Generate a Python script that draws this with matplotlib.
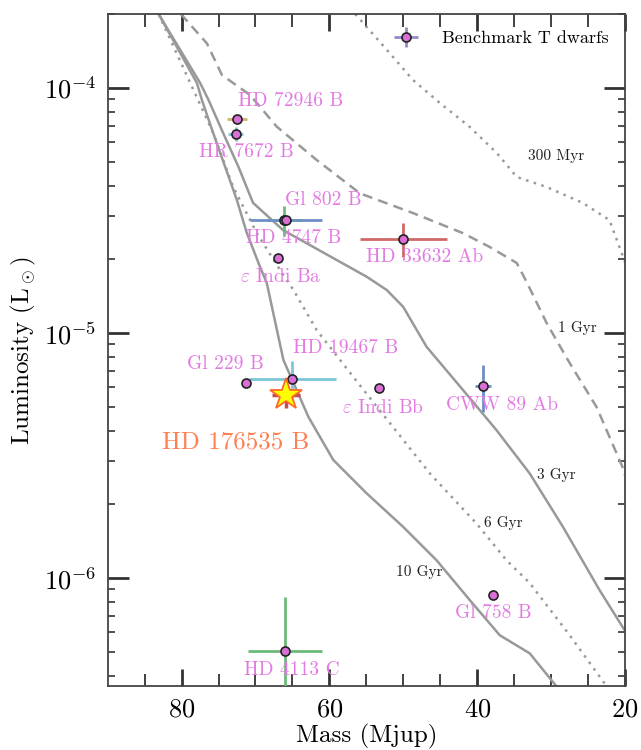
import numpy as np
import matplotlib
matplotlib.use("Agg")
import matplotlib.pyplot as plt
from matplotlib.legend_handler import HandlerErrorbar

plt.rcParams["font.family"] = "serif"
plt.rcParams["font.serif"] = ["cmr10"]
plt.rcParams["mathtext.fontset"] = "cm"
plt.rcParams["axes.unicode_minus"] = False
plt.rcParams["axes.formatter.use_mathtext"] = True

# isochrones: mass (Mjup) vs log10 L/Lsun
iso_300myr_m = [56.5, 52.2, 48.7, 45.05, 41.0, 37.35, 34.65, 30.6, 25.7, 22.1, 20.0]
iso_300myr_l = [-3.698, -3.845, -3.967, -4.061, -4.159, -4.265, -4.363, -4.404, -4.469, -4.539, -4.71]

iso_1gyr_m = [80.1, 76.57, 74.54, 70.72, 67.11, 61.71, 55.86, 48.7, 41.94, 38.29, 34.65, 33.3,
              30.6, 27.49, 23.84, 20.33, 20.0]
iso_1gyr_l = [-3.698, -3.818, -3.947, -4.029, -4.158, -4.294, -4.43, -4.51, -4.592, -4.649, -4.714,
              -4.792, -4.959, -5.122, -5.302, -5.547, -5.58]

iso_3gyr_m = [83.11, 77.48, 76.35, 74.37, 72.3, 70.49, 70.32, 66.26, 54.96, 52.25, 50.01, 46.85,
              41.9, 37.39, 32.89, 28.39, 23.44, 20.0]
iso_3gyr_l = [-3.698, -3.98, -4.049, -4.184, -4.322, -4.457, -4.469, -4.58, -4.77, -4.824, -4.893,
              -5.056, -5.233, -5.396, -5.573, -5.791, -6.049, -6.215]

iso_6gyr_m = [83.11, 75.72, 73.02, 69.82, 66.67, 64.87, 61.71, 55.59, 46.4, 40.09, 36.04, 32.89,
              27.49, 22.49]
iso_6gyr_l = [-3.698, -4.184, -4.404, -4.592, -4.743, -4.824, -4.988, -5.224, -5.573, -5.777,
              -5.927, -6.02, -6.233, -6.441]

iso_10gyr_m = [83.11, 77.92, 77.25, 75.72, 74.1, 72.52, 71.17, 69.37, 68.47, 66.22, 62.84, 59.47,
               54.96, 50.01, 45.5, 40.99, 36.95, 32.89, 29.29]
iso_10gyr_l = [-3.698, -3.98, -4.049, -4.184, -4.322, -4.457, -4.592, -4.731, -4.796, -5.11,
               -5.342, -5.518, -5.654, -5.791, -5.927, -6.09, -6.233, -6.307, -6.441]

# benchmark T dwarfs
names = ["HD 72946 B", "HR 7672 B", "Gl 802 B", "HD 4747 B", "HD 33632 Ab",
         r"$\varepsilon$ Indi Ba", "Gl 229 B", "HD 19467 B", r"$\varepsilon$ Indi Bb",
         "CWW 89 Ab", "Gl 758 B", "HD 4113 C"]
mass = [72.5, 72.7, 66.1, 65.9, 50.0, 66.9, 71.3, 65.0, 53.25, 39.2, 37.9, 66.0]
mass_err = [1.3, 1.0, 2.4, 4.9, 5.9, 0.0, 0.0, 5.9, 0.0, 1.1, 0.5, 5.0]
lum = [7.45e-5, 6.5e-5, 2.9e-5, 2.9e-5, 2.42e-5, 2.03e-5, 6.24e-6, 6.52e-6, 5.94e-6,
       6.08e-6, 8.57e-7, 5.05e-7]
lum_err = [3.4e-6, 4.5e-6, 4.0e-6, 0.0, 3.8e-6, 0.0, 0.0, 1.2e-6, 0.0, 1.3e-6, 4e-8, 3.3e-7]
err_colors = ["#d4b26e", "#7cc6da", "#6cba78", "#6c8fc6", "#d06868", "#7cc6da", "#7cc6da",
              "#7cc6da", "#7cc6da", "#6c8fc6", "#6cba78", "#6cba78"]

# HD 176535 B
star_mass, star_mass_err = 65.9, 1.9
star_lum, star_lum_err = 5.58e-6, 6.5e-7

# label positions (mass, log L)
name_pos = [(65.3, -4.053), (71.26, -4.261), (60.86, -4.457), (64.78, -4.612), (47.08, -4.69),
            (66.53, -4.771), (74.1, -5.127), (57.75, -5.061), (52.75, -5.306), (36.67, -5.294),
            (37.75, -6.143), (65.05, -6.376)]
iso_labels = ["300 Myr", "1 Gyr", "3 Gyr", "6 Gyr", "10 Gyr"]
iso_label_pos = [(29.36, -4.278), (26.39, -4.98), (29.24, -5.58), (36.4, -5.776), (47.89, -5.976)]

fig = plt.figure(figsize=(6.41, 7.5), dpi=100)
ax = fig.add_axes([0.168, 0.085, 0.807, 0.896])

grey = "#999999"
ax.plot(iso_300myr_m, 10 ** np.array(iso_300myr_l), ls=(0, (1, 2.2)), color=grey, lw=1.8)
ax.plot(iso_1gyr_m, 10 ** np.array(iso_1gyr_l), ls=(0, (4, 2.5)), color=grey, lw=1.8)
ax.plot(iso_3gyr_m, 10 ** np.array(iso_3gyr_l), ls="-", color=grey, lw=1.8)
ax.plot(iso_6gyr_m, 10 ** np.array(iso_6gyr_l), ls=(0, (1, 2.2)), color=grey, lw=1.8)
ax.plot(iso_10gyr_m, 10 ** np.array(iso_10gyr_l), ls="-", color=grey, lw=1.8)

for lab, (x, y) in zip(iso_labels, iso_label_pos):
    ax.text(x, 10 ** y, lab, fontsize=11, color="#222222", ha="center", va="center")

for i in range(len(names)):
    ax.errorbar(mass[i], lum[i], xerr=mass_err[i], yerr=lum_err[i], fmt="none",
                ecolor=err_colors[i], elinewidth=2, zorder=3)
ax.plot(mass, lum, "o", ms=6.5, mfc="orchid", mec="#222222", mew=1.2, ls="none", zorder=4)

for n, (x, y) in zip(names, name_pos):
    ax.text(x, 10 ** y, n, fontsize=14, color="#e27ae2", ha="center", va="center", zorder=5)

ax.errorbar(star_mass, star_lum, xerr=star_mass_err, yerr=star_lum_err, fmt="none",
            ecolor="#c0504d", elinewidth=2.5, zorder=5)
ax.plot(star_mass, star_lum, "*", ms=24, mfc="#ffff00", mec="#ff6a2a", mew=1.3, zorder=6)
ax.text(72.74, 10 ** -5.445, "HD 176535 B", fontsize=18, color="coral", ha="center",
        va="center")

# legend entry
h = ax.errorbar([], [], xerr=[], yerr=[], fmt="o", ms=6.5, mfc="orchid", mec="#222222",
                mew=1.2, ecolor="#9888c8", elinewidth=2)
ax.legend([h], ["Benchmark T dwarfs"], loc="upper right", frameon=False, fontsize=13,
          handlelength=2.0, handletextpad=1.0, borderaxespad=0.5,
          handler_map={type(h): HandlerErrorbar(xerr_size=0.68, yerr_size=0.55)})

ax.set_yscale("log")
ax.set_xlim(90, 20)
ax.set_ylim(3.62e-7, 2.0e-4)
ax.set_xticks([80, 60, 40, 20])
ax.set_xticks(np.arange(85, 20, -5), minor=True)

ax.tick_params(which="both", direction="in", top=True, right=True, labelsize=19,
               color="#333333")
ax.tick_params(axis="x", which="major", length=12, width=2)
ax.tick_params(axis="x", which="minor", length=9, width=1.3)
ax.tick_params(axis="y", which="major", length=15, width=2)
ax.tick_params(axis="y", which="minor", length=5, width=1.2)
ax.tick_params(axis="both", which="major", pad=8)
for s in ax.spines.values():
    s.set_color("#444444")
    s.set_linewidth(1.3)

ax.set_xlabel("Mass (Mjup)", fontsize=18, labelpad=2)
ax.set_ylabel(r"Luminosity (L$_\odot$)", fontsize=18)

fig.savefig("out.png", dpi=100)
